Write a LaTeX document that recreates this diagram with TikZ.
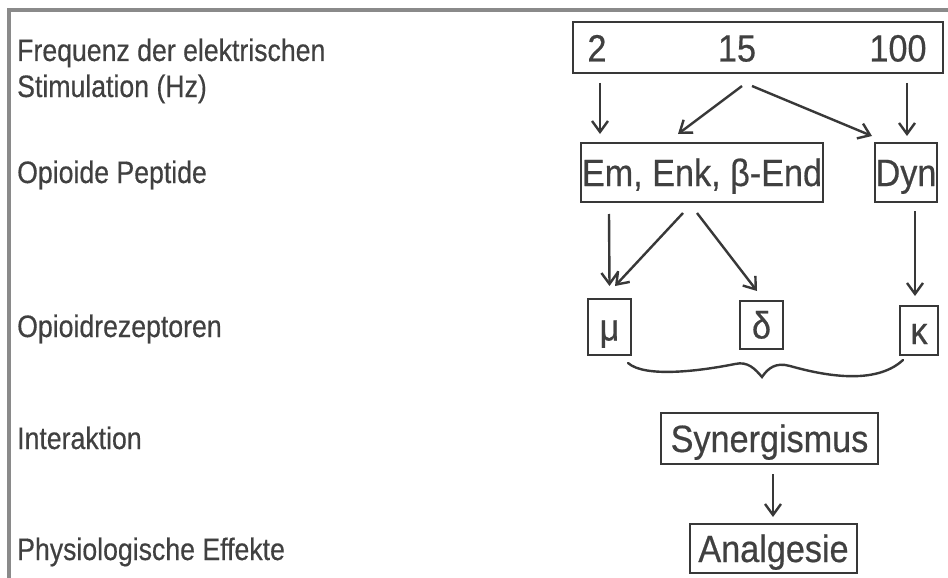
\documentclass[tikz,border=0pt]{standalone}
\usepackage{fontspec}
\setmainfont{Liberation Sans}
\newfontfamily\lblfont[FakeStretch=0.86,FakeBold=0.4]{Liberation Sans}
\newfontfamily\boxfont[FakeStretch=0.9,FakeBold=0.5]{Liberation Sans}
\usetikzlibrary{arrows.meta,calc}
\definecolor{ink}{HTML}{383838}
\definecolor{txt}{HTML}{404040}
\definecolor{framegray}{HTML}{8A8A8A}
\begin{document}
\begin{tikzpicture}[x=1pt,y=-1pt,
  lbl/.style={anchor=base west, inner sep=0pt, font=\lblfont\fontsize{31}{36}\selectfont, text=txt},
  bx/.style={draw=ink, line width=2pt, inner sep=0pt, text=txt, font=\boxfont\fontsize{38}{40}\selectfont, text height=27pt, text depth=0pt},
  num/.style={inner sep=0pt, text=txt, font=\boxfont\fontsize{38}{40}\selectfont, text height=27pt, text depth=0pt},
  arr/.style={draw=ink, line width=2.4pt, -{Straight Barb[length=11pt,width=16pt,line width=2.4pt]}},
  brace/.style={draw=ink, line width=2.4pt, line cap=round}
]
\fill[white] (0,0) rectangle (948,578);
\useasboundingbox (0,0) rectangle (948,578);
% frame
\fill[framegray] (7,8) rectangle (948,12);
\fill[framegray] (7,8) rectangle (11,578);

% left labels
\node[lbl] (l1a) at (17,61) {Frequenz der elektrischen};
\node[lbl] (l1b) at (17,97) {Stimulation (Hz)};
\node[lbl] (l2) at (17,183) {Opioide Peptide};
\node[lbl] (l3) at (17,337) {Opioidrezeptoren};
\node[lbl] (l4) at (17,449) {Interaktion};
\node[lbl] (l5) at (17,560) {Physiologische Effekte};

% top box with frequencies
\node[bx, minimum width=370pt, minimum height=51pt] (top) at (758,47.5) {};
\node[num] (n2) at (597,48) {2};
\node[num] (n15) at (737,48) {15};
\node[num] (n100) at (898,48) {100};

% peptides
\node[bx, minimum width=242pt, minimum height=59pt] (em) at (702,172.5) {Em, Enk, β-End};
\node[bx, minimum width=62pt, minimum height=59pt] (dyn) at (906,172.5) {Dyn};

% receptors
\node[bx, minimum width=43pt, minimum height=56pt] (mu) at (609.5,327) {μ};
\node[bx, minimum width=43pt, minimum height=48pt] (delta) at (761.5,325) {δ};
\node[bx, minimum width=38pt, minimum height=49pt] (kappa) at (919,330.5) {κ};

% interaction / effect
\node[bx, minimum width=217pt, minimum height=51pt] (syn) at (769.5,438.5) {Synergismus};
\node[bx, minimum width=167pt, minimum height=49pt] (ana) at (773.5,548.5) {Analgesie};

% arrows
\draw[arr] ([xshift=-158pt,yshift=-9pt]top.south) -- ([xshift=-102pt,yshift=8pt]em.north);
\draw[arr] ([xshift=-16pt,yshift=-12pt]top.south) -- ([xshift=-24pt,yshift=8pt]em.north);
\draw[arr] ([xshift=-6pt,yshift=-12pt]top.south) -- ([xshift=-34pt,yshift=6pt]dyn.north);
\draw[arr] ([xshift=149pt,yshift=-9pt]top.south) -- ([xshift=1pt,yshift=6pt]dyn.north);

\draw[arr] ([xshift=-93pt,yshift=-11pt]em.south) -- ([xshift=0pt,yshift=12pt]mu.north);
\draw[arr] ([xshift=-19pt,yshift=-10pt]em.south) -- ([xshift=5.5pt,yshift=12pt]mu.north);
\draw[arr] ([xshift=-5pt,yshift=-10pt]em.south) -- ([xshift=-4.5pt,yshift=9pt]delta.north);
\draw[arr] ([xshift=9pt,yshift=-8pt]dyn.south) -- ([xshift=-4pt,yshift=9pt]kappa.north);

\draw[arr] ([xshift=3.5pt,yshift=-9pt]syn.south) -- ([xshift=-0.5pt,yshift=6pt]ana.north);

% curly brace under the receptors
\draw[brace] (628,363) .. controls (645,378) and (700,371) .. (735,364)
  .. controls (748,361) and (755,369) .. (762,377)
  .. controls (768,368) and (776,362) .. (790,366)
  .. controls (822,375) and (875,386) .. (903,360);
\end{tikzpicture}
\end{document}
